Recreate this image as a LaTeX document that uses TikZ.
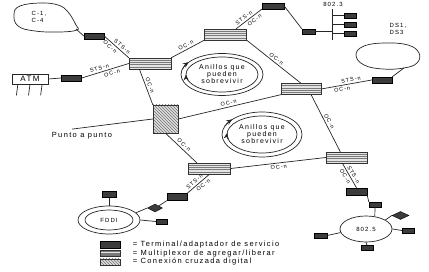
\documentclass[tikz,border=0pt]{standalone}
\usepackage{fontspec}
\newfontfamily\diagfont{Liberation Sans}[LetterSpace=18]
\usepackage{tikz}
\usetikzlibrary{shapes.geometric, arrows.meta, positioning, calc, patterns}
\definecolor{termfill}{HTML}{3C3C3C}
\definecolor{admfill}{HTML}{E4E4E4}
\definecolor{admline}{HTML}{7A7A7A}

\begin{document}
\begin{tikzpicture}[
  x=1pt, y=-1pt,
  font=\diagfont\fontsize{7}{7}\selectfont,
  link/.style={draw=black!85, line width=0.7pt},
  terminal/.style={rectangle, draw=black, fill=termfill, minimum width=20pt, minimum height=6pt, inner sep=0pt},
  smallterm/.style={terminal, minimum width=12pt, minimum height=5pt},
  tap/.style={diamond, draw=black, fill=termfill, minimum width=15pt, minimum height=8pt, inner sep=0pt},
  adm/.style={rectangle, draw=black!80, fill=admfill, minimum width=42pt, minimum height=11pt, inner sep=0pt,
    path picture={\foreach \k in {1,...,4} \draw[admline, line width=0.5pt] ($(path picture bounding box.south west)!\k/5!(path picture bounding box.north west)$) -- ($(path picture bounding box.south east)!\k/5!(path picture bounding box.north east)$);}},
  dxc/.style={rectangle, draw=black!80, minimum width=25pt, minimum height=28pt, inner sep=0pt, preaction={fill=gray!25}, pattern=north west lines, pattern color=black!55},
  lan/.style={ellipse, draw=black!85, line width=0.7pt, inner sep=0pt},
  lbl/.style={font=\diagfont\fontsize{5.5}{6}\selectfont, sloped, inner sep=1.8pt},
  small/.style={font=\diagfont\fontsize{6}{7}\selectfont, inner sep=0pt},
  keytext/.style={font=\diagfont\fontsize{7.5}{8}\selectfont, inner sep=0.5pt},
  ring/.style={draw=black!85, line width=0.7pt},
  ringarrow/.style={draw=black!85, line width=0.7pt, -{Stealth[length=6pt, width=5pt]}}
]
\useasboundingbox (0,0) rectangle (429,272);

\draw [link] plot[smooth cycle, tension=0.7] coordinates {(14,14) (20,6) (40,3) (58,5) (68,12) (76,25) (77,30) (60,32) (35,31) (18,26)};
\coordinate (blobCtip) at (76,29);
\node (blobCtext) [small, align=left] at (39,16.5) {C-1,\\C-4};
\node (tc) [terminal] at (94,36) {};
\node (adm1) [adm] at (150,63.5) {};
\node (atm) [draw=black!85, line width=0.7pt, minimum width=36pt, minimum height=10pt, inner sep=0pt, font=\diagfont\fontsize{8}{8}\selectfont] at (30,79) {ATM};
\node (ta) [terminal] at (71.5,78) {};
\node (adm2) [adm] at (225.5,34.5) {};
\node (tt) [terminal, minimum width=22pt] at (273,6) {};
\node (ts) [smallterm, minimum width=13pt] at (308.5,31.5) {};
\coordinate (bustop) at (332,9);
\coordinate (busbot) at (332,40);
\node (lan8023) [small] at (333,4.5) {802.3};
\node (bus1) [smallterm] at (350,15.5) {};
\node (bus2) [smallterm] at (350,24.5) {};
\node (bus3) [smallterm] at (350,33.5) {};
\node (adm3) [adm, minimum width=40pt] at (301,89) {};
\node (tr) [terminal] at (382,80) {};
\draw [link] plot[smooth cycle, tension=0.7] coordinates {(356,55) (364,46) (385,43) (408,45) (419,53) (417,63) (404,68) (383,69) (364,65)};
\coordinate (blobDtip) at (404,68);
\node (blobDtext) [small, align=left] at (398,28.5) {DS1,\\DS3};
\node (ring1) [align=center] at (222,74.5) {Anillos que\\pueden\\sobrevivir};
\node (dcs) [dxc] at (165.5,119) {};
\node (punto) [font=\diagfont\fontsize{7.5}{8}\selectfont] at (82,136) {Punto a punto};
\node (ring2) [align=center] at (262,134.5) {Anillos que\\pueden\\sobrevivir};
\node (adm4) [adm] at (209.5,168.5) {};
\node (adm5) [adm, minimum width=41pt] at (346.5,157.5) {};
\node (tb) [terminal, minimum height=7pt] at (177,197) {};
\node (tapf) [tap] at (155,208) {};
\node (fddiout) [lan, minimum width=62pt, minimum height=28pt] at (109,220) {};
\node (fddi) [lan, minimum width=48pt, minimum height=20pt, small] at (109,220) {FDDI};
\node (fddiup) [smallterm, minimum width=14pt, minimum height=6pt] at (109,194.5) {};
\node (fddiright) [smallterm, minimum width=11pt] at (161.5,221.5) {};
\node (tb5) [terminal, minimum width=21pt, minimum height=7pt] at (356.5,191.5) {};
\node (s5) [smallterm] at (375,204.5) {};
\node (tr5) [lan, minimum width=52pt, minimum height=26pt, small] at (366,229) {802.5};
\node (s5left) [smallterm, minimum width=13pt] at (320.5,235.5) {};
\node (s5bot) [smallterm] at (367,248) {};
\node (s5right) [smallterm] at (408,230.5) {};
\node (tap5) [tap, minimum width=17pt] at (400.5,215.5) {};

\node (keyterm) [terminal, minimum height=7pt] at (110,244.5) {};
\node (keyadm) [adm, minimum width=20pt, minimum height=6pt, below=2pt of keyterm] {};
\node (keydxc) [dxc, minimum width=20pt, minimum height=6pt, below=2pt of keyadm] {};
\node (keytermtext) [keytext, right=12pt of keyterm] {= Terminal/adaptador de servicio};
\node (keyadmtext) [keytext, right=12pt of keyadm] {= Multiplexor de agregar/liberar};
\node (keydxctext) [keytext, right=12pt of keydxc] {= Conexión cruzada digital};

\draw [ring] (ring1.center) ellipse [x radius=41, y radius=21] ellipse [x radius=36, y radius=17.5];
\draw [ringarrow] ($(ring1.center)+(-164:41 and 21)$) arc[start angle=-164, end angle=-144, x radius=41, y radius=21];
\draw [ringarrow] ($(ring1.center)+(-200:36 and 17.5)$) arc[start angle=-200, end angle=-180, x radius=36, y radius=17.5];
\draw [ring] (ring2.center) ellipse [x radius=40, y radius=22.5] ellipse [x radius=35, y radius=18.5];
\draw [ringarrow] ($(ring2.center)+(-158:40 and 22.5)$) arc[start angle=-158, end angle=-138, x radius=40, y radius=22.5];
\draw [ringarrow] ($(ring2.center)+(-195:35 and 18.5)$) arc[start angle=-195, end angle=-175, x radius=35, y radius=18.5];

\draw [link] (blobCtip) -- (tc.west);
\draw [link] (tc.east) -- node[lbl, above, pos=0.62] {STS-n} node[lbl, below, pos=0.35] {OC-n} (adm1.north west);
\draw [link] (atm.east) -- (ta.west);
\foreach \lx in {0.17,0.5,0.83}
  \draw [link] ($(atm.south west)!\lx!(atm.south east)$) -- ++(-1.5,11);
\draw [link] (ta.east) -- node[lbl, above, pos=0.4] {STS-n} node[lbl, below, pos=0.62] {OC-n} (adm1.west);
\draw [link] (adm1.north east) -- node[lbl, above] {OC-n} (adm2.south west);
\draw [link] ($(adm2.north)!0.5!(adm2.north east)$) -- node[lbl, above, pos=0.4] {STS-n} node[lbl, below, pos=0.62] {OC-n} (tt.south west);
\draw [link] (tt.east) -- (ts.north west);
\draw [link] (ts.east) -- (ts.east -| bustop);
\draw [link] (bustop) -- (busbot);
\foreach \b in {bus1,bus2,bus3}
  \draw [link] (\b.west) -- (\b.west -| bustop);
\draw [link] (adm2.south east) -- node[lbl, above] {OC-n} (adm3.north);
\draw [link] (adm3.east) -- node[lbl, above, pos=0.6] {STS-n} node[lbl, below, pos=0.4] {OC-n} (tr.west);
\draw [link] (tr.north east) -- (blobDtip);
\draw [link] ($(adm1.south west)!0.25!(adm1.south east)$) -- node[lbl, above] {OC-n} (dcs.north west);
\draw [link] (dcs.west) -- ([xshift=-10pt]punto.north);
\draw [link] (dcs.east) -- node[lbl, above] {OC-n} (adm3.south west);
\draw [link] (dcs.south) -- node[lbl, above] {OC-n} ($(adm4.north west)!0.2!(adm4.north east)$);
\draw [link] (adm4.east) -- node[lbl, below] {OC-n} (adm5.west);
\draw [link] ($(adm3.south)!0.5!(adm3.south east)$) -- node[lbl, above] {OC-n} ($(adm5.north west)!0.35!(adm5.north east)$);
\draw [link] ($(adm5.south west)!0.4!(adm5.south east)$) -- node[lbl, above, pos=0.55] {STS-n} node[lbl, below, pos=0.45] {OC-n} (tb5.north);
\draw [link] (tb5.south east) -- (s5.north west);
\draw [link] (s5.south) -- (tr5.55);
\draw [link] (s5left.east) -- (tr5.188);
\draw [link] (tr5.south) -- (s5bot.north);
\draw [link] (tr5.east) -- (s5right.west);
\draw [link] (tr5.25) -- (tap5.west);
\draw [link] (tb.north east) -- node[lbl, above, pos=0.45] {STS-n} node[lbl, below, pos=0.6] {OC-n} (adm4.south);
\draw [link] (tb.south west) -- (tapf.north east);
\draw [link] (tapf.west) -- (fddiout.15);
\draw [link] (fddiup.south) -- (fddiout.north);
\draw [link] (fddiout.east) -- (fddiright.west);
\end{tikzpicture}
\end{document}
